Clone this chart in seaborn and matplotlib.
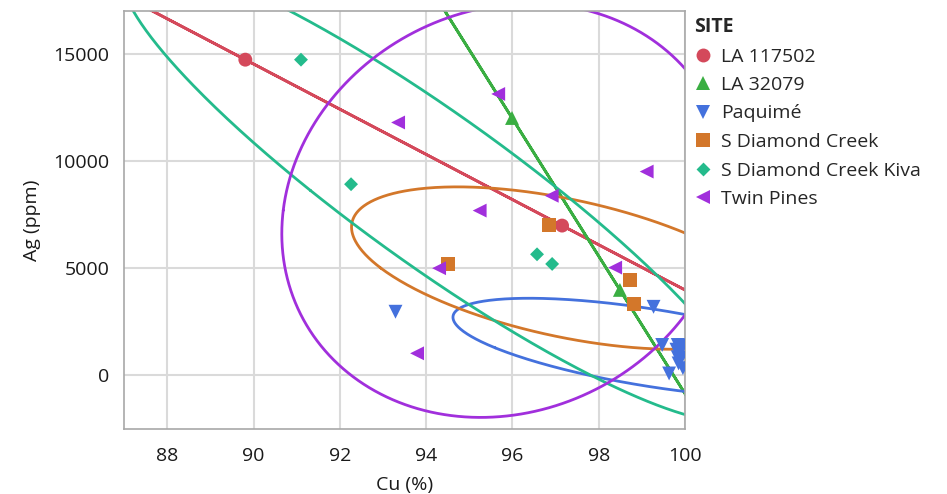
import numpy as np
import pandas as pd
import matplotlib
matplotlib.use("Agg")
import matplotlib.pyplot as plt
import seaborn as sns
from matplotlib.ticker import MultipleLocator

# ---- data ----
sites = ["LA 117502", "LA 32079", "Paquimé", "S Diamond Creek",
         "S Diamond Creek Kiva", "Twin Pines"]
site_colors = ["#d4495b", "#3aae42", "#4471dd", "#d3772a", "#24bb8c", "#a12fdc"]

la117502_cu = [89.81, 97.15]
la117502_ag = [14730, 6990]

la32079_cu = [95.99, 98.49]
la32079_ag = [12010, 3990]

paquime_cu = [93.29, 99.27, 99.47, 99.83, 99.95, 99.91, 99.83, 99.85, 99.63, 99.95, 99.90, 99.80]
paquime_ag = [2970, 3200, 1420, 1420, 1400, 820, 850, 560, 90, 340, 1150, 1200]

sdc_cu = [96.85, 94.51, 98.73, 98.81]
sdc_ag = [7030, 5200, 4450, 3350]

kiva_cu = [91.10, 92.26, 96.57, 96.92]
kiva_ag = [14730, 8920, 5650, 5200]

twin_cu = [93.35, 95.67, 99.11, 95.24, 96.91, 98.38, 94.30, 93.79]
twin_ag = [11800, 13130, 9510, 7690, 8380, 5030, 5000, 1030]

groups = [(la117502_cu, la117502_ag), (la32079_cu, la32079_ag), (paquime_cu, paquime_ag),
          (sdc_cu, sdc_ag), (kiva_cu, kiva_ag), (twin_cu, twin_ag)]
df = pd.concat([pd.DataFrame({"Cu": cu, "Ag": ag, "SITE": s})
                for s, (cu, ag) in zip(sites, groups)], ignore_index=True)

palette = dict(zip(sites, site_colors))
diamond = [(0, 1), (1, 0), (0, -1), (-1, 0), (0, 1)]
markers = {"LA 117502": "o", "LA 32079": "^", "Paquimé": "v",
           "S Diamond Creek": "s", "S Diamond Creek Kiva": diamond, "Twin Pines": "<"}

sns.set_style("white")
plt.rcParams['font.family'] = ['Open Sans', 'DejaVu Sans']

fig, ax = plt.subplots(figsize=(9.47, 4.94), dpi=100)
fig.subplots_adjust(left=0.131, right=0.7234, bottom=0.1316, top=0.9777)

# 95% density ellipses (bivariate normal fit per site)
t = np.linspace(0, 2 * np.pi, 600)
k = np.sqrt(5.991)
for site in sites:
    g = df[df.SITE == site]
    mu = g[["Cu", "Ag"]].mean().values
    cov = np.cov(g.Cu, g.Ag)
    vals, vecs = np.linalg.eigh(cov)
    vals = np.clip(vals, 0, None)
    circ = np.vstack([np.cos(t), np.sin(t)]) * np.sqrt(vals)[:, None]
    pts = mu[:, None] + k * (vecs @ circ)
    ax.plot(pts[0], pts[1], color=palette[site], lw=2.0, zorder=2)

sns.scatterplot(data=df, x="Cu", y="Ag", hue="SITE", style="SITE", hue_order=sites,
                style_order=sites, palette=palette, markers=markers, s=100,
                linewidth=0, ax=ax, zorder=3)

ax.set_xlim(87, 100)
ax.set_ylim(-2500, 17000)
ax.xaxis.set_major_locator(MultipleLocator(2))
ax.yaxis.set_major_locator(MultipleLocator(5000))
ax.yaxis.set_minor_locator(MultipleLocator(2500))
ax.grid(True, which="major", color="#dadada", lw=1.5)
ax.set_axisbelow(True)
for sp in ax.spines.values():
    sp.set_color("#a8a8a8")
    sp.set_linewidth(1.2)
ax.tick_params(which="major", length=7, width=1.2, color="#a8a8a8",
               labelsize=14, labelcolor="#1a1a1a")
ax.tick_params(axis="x", which="major", pad=6)
ax.tick_params(which="minor", length=4.5, width=1.2, color="#a8a8a8")
ax.set_xlabel("Cu (%)", fontsize=14, color="#1a1a1a", labelpad=8)
ax.set_ylabel("Ag (ppm)", fontsize=14, color="#1a1a1a", labelpad=9)

handles, labels = ax.get_legend_handles_labels()
ax.get_legend().remove()
leg = ax.legend(handles, labels, title="SITE", loc="upper left",
                bbox_to_anchor=(694 / 947, 1 - 17 / 494), bbox_transform=fig.transFigure,
                frameon=False, fontsize=14, alignment="left",
                title_fontproperties={"weight": "bold", "size": 14},
                handletextpad=0.5, labelspacing=0.54, borderaxespad=0, borderpad=0,
                handlelength=0.9)

fig.savefig("out.png", dpi=100)
